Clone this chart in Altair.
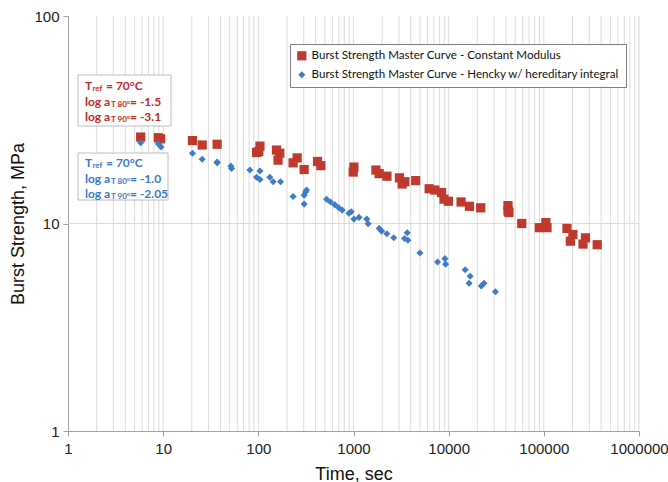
import altair as alt
import pandas as pd

# ---- data ----
red_time = [5.8, 8.9, 9.4, 20.3, 25.7, 36.9, 95.8, 101, 104, 155, 161, 168, 232, 256, 303, 419, 454,
            993, 1010, 1720, 1862, 2246, 3040, 3245, 3470, 4500, 6240, 7160, 8420, 8930, 9930,
            13500, 16550, 21700, 42000, 42000, 43000, 58600, 89700, 105000, 108000, 175000,
            190000, 202000, 258000, 274000, 364000]
red_strength = [26.1, 25.9, 25.6, 25.1, 23.9, 24.1, 22.0, 22.2, 23.6, 22.6, 20.2, 21.8, 19.6, 20.7, 18.2,
                19.9, 19.0, 17.7, 18.7, 18.1, 17.4, 16.9, 16.6, 15.5, 15.9, 16.1, 14.7, 14.5, 14.1,
                13.1, 12.8, 12.7, 12.1, 11.9, 12.2, 11.5, 11.3, 10.0, 9.55, 10.1, 9.55, 9.47, 8.22,
                8.85, 7.96, 8.53, 7.90]

blue_time = [5.8, 8.9, 9.5, 20.3, 25.7, 36.9, 36.9, 51.4, 52.3, 81.4, 95.8, 104, 104, 132, 143, 171,
             232, 303, 313, 321, 303, 521, 574, 637, 700, 761, 895, 948, 1010, 1142, 1380, 1425,
             1862, 1974, 2246, 2648, 3438, 3670, 3733, 4990, 7640, 9140, 9290, 14900, 16800,
             16400, 22000, 23500, 31000]
blue_strength = [24.5, 24.2, 23.4, 21.8, 20.4, 19.8, 19.6, 18.9, 18.4, 18.1, 16.7, 17.9, 16.3, 16.7,
                 15.9, 15.9, 13.5, 12.4, 14.2, 14.5, 13.7, 13.1, 12.7, 12.3, 11.9, 11.6, 11.2, 11.4,
                 10.5, 10.7, 10.5, 9.97, 9.47, 9.19, 8.92, 8.53, 8.47, 9.02, 8.31, 7.21, 6.52, 6.77,
                 6.37, 5.98, 5.57, 5.15, 5.00, 5.15, 4.69]

series_names = ["Burst Strength Master Curve - Constant Modulus",
                "Burst Strength Master Curve - Hencky w/ hereditary integral"]

x_ticks = [1, 10, 100, 1000, 10000, 100000, 1000000]
y_ticks = [1, 10, 100]
x_grid = [m * 10 ** k for k in range(6) for m in range(2, 11)]
y_grid = [10]

RED = "#c0392f"
BLUE = "#3f7cc6"
RED_TXT = "#c62828"
BLUE_TXT = "#3b79c3"

df = pd.concat([
    pd.DataFrame({"time": red_time, "strength": red_strength, "series": series_names[0]}),
    pd.DataFrame({"time": blue_time, "strength": blue_strength, "series": series_names[1]}),
])

xscale = alt.Scale(type="log", domain=[1, 1000000], nice=False)
yscale = alt.Scale(type="log", domain=[1, 100], nice=False)
xaxis = alt.Axis(values=x_ticks, format="d", grid=False, labelFlush=False)
yaxis = alt.Axis(values=y_ticks, format="d", grid=False)
XT = "Time, sec"
YT = "Burst Strength, MPa"

xgrid = alt.Chart(pd.DataFrame({"g": x_grid})).mark_rule(color="#dcdcdc", strokeWidth=1).encode(
    x=alt.X("g:Q", scale=xscale, axis=xaxis, title=XT))
ygrid = alt.Chart(pd.DataFrame({"g": y_grid})).mark_rule(color="#dcdcdc", strokeWidth=1).encode(
    y=alt.Y("g:Q", scale=yscale, axis=yaxis, title=YT))

one = pd.DataFrame({"a": [0]})


def box(x1, y1, x2, y2):
    return alt.Chart(one).mark_rect(fill="white", stroke="#bdbdbd", strokeWidth=1).encode(
        x=alt.value(x1), x2=alt.value(x2), y=alt.value(y1), y2=alt.value(y2))


def txt(x, y, s, size, color):
    return alt.Chart(one).mark_text(align="left", baseline="middle", font="Lato", fontSize=size,
                                    fontWeight="bold", color=color, text=s).encode(
        x=alt.value(x), y=alt.value(y))


def note(y0, color, l2, l3):
    sub = 3
    return [
        txt(17, y0, "T", 12, color), txt(24.5, y0 + sub, "ref", 8, color), txt(38, y0, "= 70°C", 12, color),
        txt(17, y0 + 16, "log a", 12, color), txt(43, y0 + 16 + sub, "T 80°", 8, color),
        txt(62, y0 + 16, l2, 12, color),
        txt(17, y0 + 31, "log a", 12, color), txt(43, y0 + 31 + sub, "T 90°", 8, color),
        txt(62, y0 + 31, l3, 12, color),
    ]


points = alt.Chart(df).mark_point(filled=True, opacity=1).encode(
    x=alt.X("time:Q", scale=xscale, title=XT, axis=xaxis),
    y=alt.Y("strength:Q", scale=yscale, title=YT, axis=yaxis),
    color=alt.Color("series:N", scale=alt.Scale(domain=series_names, range=[RED, BLUE]),
                    legend=alt.Legend(title=None, orient="none", legendX=222, legendY=28,
                                      strokeColor="#7f7f7f", fillColor="white", padding=6,
                                      labelFont="Lato", labelFontSize=11.6, labelColor="#111",
                                      labelLimit=500, rowPadding=6, symbolSize=60)),
    shape=alt.Shape("series:N", scale=alt.Scale(domain=series_names, range=["square", "diamond"])),
    size=alt.Size("series:N", scale=alt.Scale(domain=series_names, range=[85, 50])),
)

layers = [xgrid, ygrid, box(10, 59, 103, 110), box(10, 137, 100, 184)]
layers += note(70, RED_TXT, "= -1.5", "= -3.1")
layers += note(147, BLUE_TXT, "= -1.0", "= -2.05")
layers += [points]

chart = alt.layer(*layers).properties(
    width=571, height=415,
    padding={"left": 68, "top": 16, "right": 29, "bottom": 51},
    autosize=alt.AutoSizeParams(type="none"),
).configure_view(stroke=None).configure_axis(
    domainColor="#a0a0a0", tickColor="#a0a0a0", tickSize=5,
    labelFont="Liberation Sans", labelFontSize=15, labelColor="#222", labelPadding=5,
    titleFont="Liberation Sans", titleFontSize=18, titleFontWeight="normal", titleColor="#111",
).configure_axisX(titlePadding=9).configure_axisY(titlePadding=6, labelPadding=4)

chart.save("out.html", embed_options={"renderer": "svg", "actions": False})
